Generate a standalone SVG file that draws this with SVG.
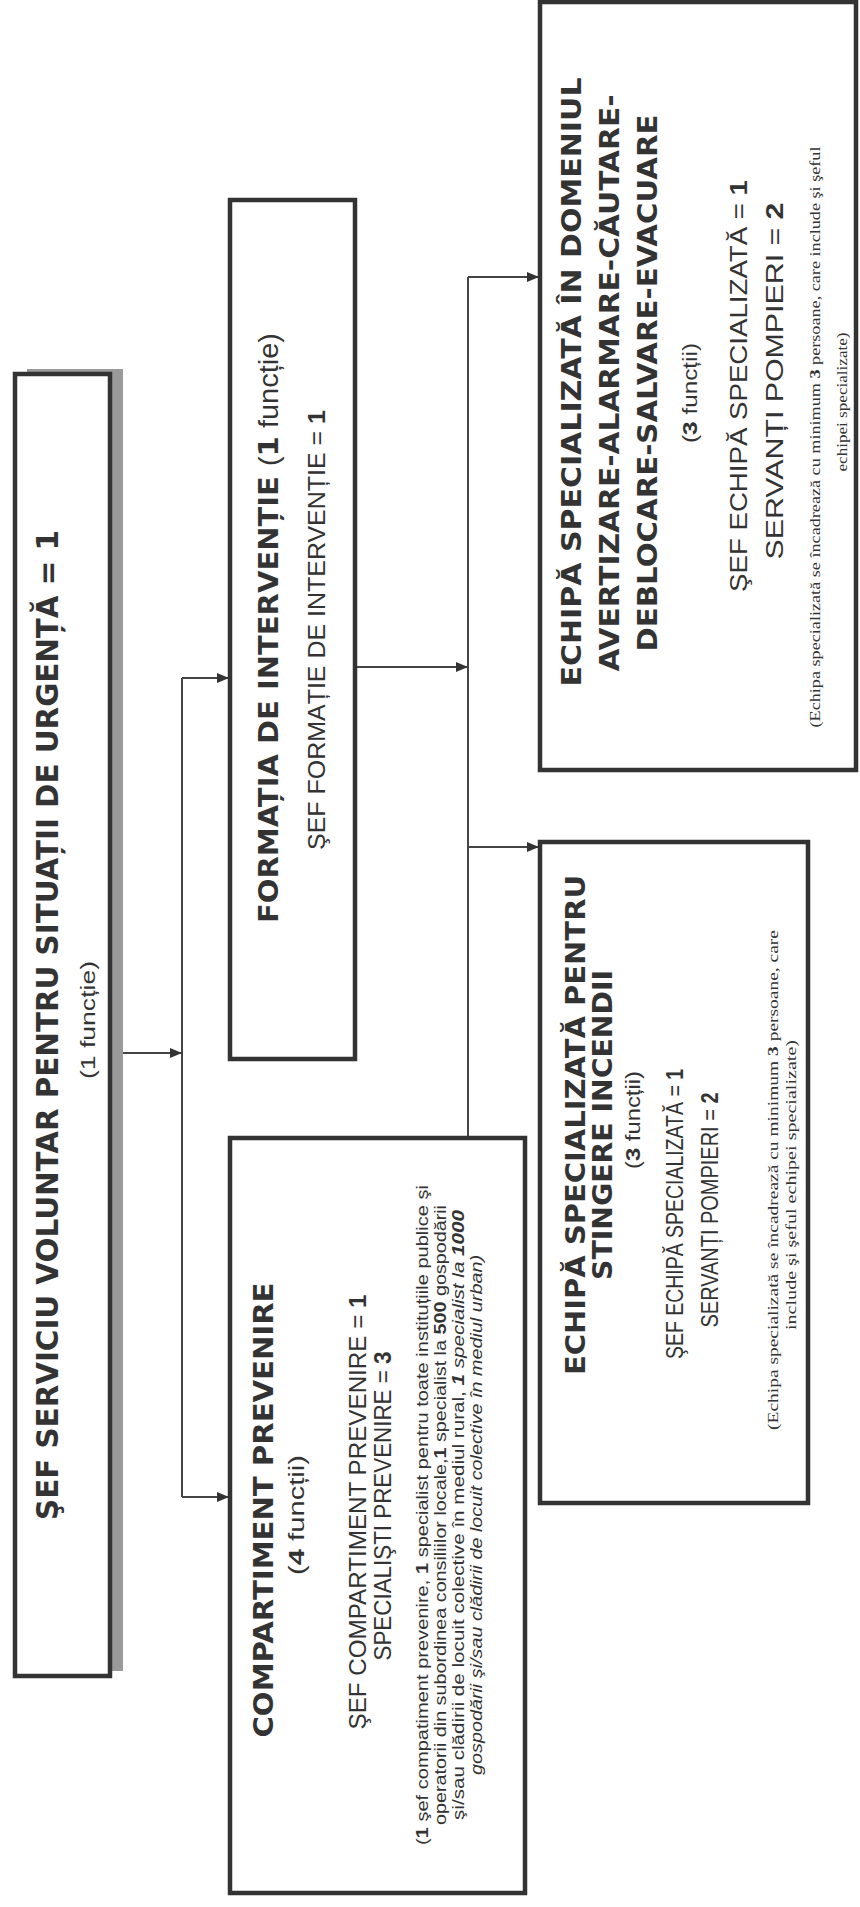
<svg xmlns="http://www.w3.org/2000/svg" width="860" height="1907" viewBox="0 0 860 1907">
<defs>
<marker id="arr" viewBox="0 0 12 10" refX="12" refY="5" markerWidth="12" markerHeight="10" markerUnits="userSpaceOnUse" orient="auto"><path d="M0,0 L12,5 L0,10 z" fill="#333"/></marker>
<style>
.box{fill:#fff;stroke:#333;stroke-width:4.5}
.shadow{fill:#9a9a9a}
.conn{fill:none;stroke:#444;stroke-width:2}
.t{font-family:"DejaVu Sans",Verdana,sans-serif;font-weight:bold;fill:#333;text-anchor:middle}
.n{font-family:"Liberation Sans",Arial,sans-serif;fill:#333;text-anchor:middle}
.r{font-family:"Liberation Serif","Times New Roman",serif;fill:#333;text-anchor:middle}
.b{font-weight:bold}
.i{font-style:italic}
</style>
</defs>
<rect width="860" height="1907" fill="#fff"/>

<g id="connectors">
<path class="conn" d="M110,1053 H182" marker-end="url(#arr)"/>
<path class="conn" d="M182,678 V1497"/>
<path class="conn" d="M182,678 H229" marker-end="url(#arr)"/>
<path class="conn" d="M182,1497 H229" marker-end="url(#arr)"/>
<path class="conn" d="M355,667 H468" marker-end="url(#arr)"/>
<path class="conn" d="M468,277 V1137"/>
<path class="conn" d="M468,277 H539" marker-end="url(#arr)"/>
<path class="conn" d="M468,847 H539" marker-end="url(#arr)"/>
</g>

<g id="sef-serviciu">
<rect class="shadow" x="27" y="369" width="96" height="1302"/>
<rect class="box" x="15" y="374" width="95" height="1302"/>
<text class="t" font-size="30" transform="translate(58,1025) rotate(-90)" textLength="990" lengthAdjust="spacingAndGlyphs">ŞEF SERVICIU VOLUNTAR PENTRU SITUAȚII DE URGENȚĂ = 1</text>
<text class="n" font-size="21" transform="translate(95,1020) rotate(-90)" textLength="118" lengthAdjust="spacingAndGlyphs">(1 funcție)</text>
</g>

<g id="formatia">
<rect class="box" x="230" y="200" width="125" height="859"/>
<text class="t" font-size="27" transform="translate(278,628) rotate(-90)" textLength="590" lengthAdjust="spacingAndGlyphs">FORMAȚIA DE INTERVENȚIE <tspan class="n" style="font-weight:normal">(</tspan><tspan>1</tspan><tspan class="n" style="font-weight:normal"> funcție)</tspan></text>
<text class="n" font-size="23" transform="translate(325,630) rotate(-90)" textLength="440" lengthAdjust="spacingAndGlyphs">ŞEF FORMAȚIE DE INTERVENȚIE = <tspan class="b">1</tspan></text>
</g>

<g id="compartiment">
<rect class="box" x="230" y="1138" width="295" height="755"/>
<text class="t" font-size="27" transform="translate(273,1510) rotate(-90)" textLength="455" lengthAdjust="spacingAndGlyphs">COMPARTIMENT PREVENIRE</text>
<text class="n" font-size="22" transform="translate(304,1515) rotate(-90)" textLength="120" lengthAdjust="spacingAndGlyphs">(<tspan class="b">4</tspan> funcții)</text>
<text class="n" font-size="24" transform="translate(366,1512) rotate(-90)" textLength="435" lengthAdjust="spacingAndGlyphs">ŞEF COMPARTIMENT PREVENIRE = <tspan class="b">1</tspan></text>
<text class="n" font-size="24" transform="translate(391,1506) rotate(-90)" textLength="309" lengthAdjust="spacingAndGlyphs">SPECIALIŞTI PREVENIRE = <tspan class="b">3</tspan></text>
<text class="n" font-size="16" transform="translate(428,1515) rotate(-90)" textLength="660" lengthAdjust="spacingAndGlyphs">(<tspan class="b">1</tspan> şef compatiment prevenire, <tspan class="b">1</tspan> specialist pentru toate instituțiile publice şi</text>
<text class="n" font-size="16" transform="translate(446,1515) rotate(-90)" textLength="620" lengthAdjust="spacingAndGlyphs">operatorii din subordinea consiliilor locale,<tspan class="b">1</tspan> specialist la <tspan class="b">500</tspan> gospodării</text>
<text class="n" font-size="16" transform="translate(464,1515) rotate(-90)" textLength="610" lengthAdjust="spacingAndGlyphs">şi/sau clădirii de locuit colective în mediul rural, <tspan class="b i">1</tspan><tspan class="i"> specialist la </tspan><tspan class="b i">1000</tspan></text>
<text class="n i" font-size="16" transform="translate(482,1515) rotate(-90)" textLength="520" lengthAdjust="spacingAndGlyphs">gospodării şi/sau clădirii de locuit colective în mediul urban)</text>
</g>

<g id="echipa-avertizare">
<rect class="box" x="540" y="2" width="316" height="768"/>
<text class="t" font-size="27" transform="translate(581,382) rotate(-90)" textLength="609" lengthAdjust="spacingAndGlyphs">ECHIPĂ SPECIALIZATĂ ÎN DOMENIUL</text>
<text class="t" font-size="27" transform="translate(619,383) rotate(-90)" textLength="577" lengthAdjust="spacingAndGlyphs">AVERTIZARE-ALARMARE-CĂUTARE-</text>
<text class="t" font-size="27" transform="translate(657,383) rotate(-90)" textLength="537" lengthAdjust="spacingAndGlyphs">DEBLOCARE-SALVARE-EVACUARE</text>
<text class="n" font-size="21" transform="translate(697,393) rotate(-90)" textLength="100" lengthAdjust="spacingAndGlyphs">(<tspan class="b">3</tspan> funcții)</text>
<text class="n" font-size="24" transform="translate(747,386) rotate(-90)" textLength="412" lengthAdjust="spacingAndGlyphs">ŞEF ECHIPĂ SPECIALIZATĂ = <tspan class="b">1</tspan></text>
<text class="n" font-size="24" transform="translate(783,381) rotate(-90)" textLength="357" lengthAdjust="spacingAndGlyphs">SERVANȚI POMPIERI = <tspan class="b">2</tspan></text>
<text class="r" font-size="15" transform="translate(820,437) rotate(-90)" textLength="581" lengthAdjust="spacingAndGlyphs">(Echipa specializată se încadrează cu minimum <tspan class="b">3</tspan> persoane, care include şi şeful</text>
<text class="r" font-size="15" transform="translate(847,402) rotate(-90)" textLength="139" lengthAdjust="spacingAndGlyphs">echipei specializate)</text>
</g>

<g id="echipa-stingere">
<rect class="box" x="540" y="842" width="268" height="661"/>
<text class="t" font-size="27" transform="translate(585,1125) rotate(-90)" textLength="500" lengthAdjust="spacingAndGlyphs">ECHIPĂ SPECIALIZATĂ PENTRU</text>
<text class="t" font-size="27" transform="translate(612,1125) rotate(-90)" textLength="310" lengthAdjust="spacingAndGlyphs">STINGERE INCENDII</text>
<text class="n" font-size="20" transform="translate(640,1120) rotate(-90)" textLength="98" lengthAdjust="spacingAndGlyphs">(<tspan class="b">3</tspan> funcții)</text>
<text class="n" font-size="24" transform="translate(683,1214) rotate(-90)" textLength="290" lengthAdjust="spacingAndGlyphs">ŞEF ECHIPĂ SPECIALIZATĂ = <tspan class="b">1</tspan></text>
<text class="n" font-size="24" transform="translate(718,1210) rotate(-90)" textLength="235" lengthAdjust="spacingAndGlyphs">SERVANȚI POMPIERI = <tspan class="b">2</tspan></text>
<text class="r" font-size="15" transform="translate(778,1180) rotate(-90)" textLength="500" lengthAdjust="spacingAndGlyphs">(Echipa specializată se încadrează cu minimum <tspan class="b">3</tspan> persoane, care</text>
<text class="r" font-size="15" transform="translate(796,1185) rotate(-90)" textLength="290" lengthAdjust="spacingAndGlyphs">include şi şeful echipei specializate)</text>
</g>
</svg>
